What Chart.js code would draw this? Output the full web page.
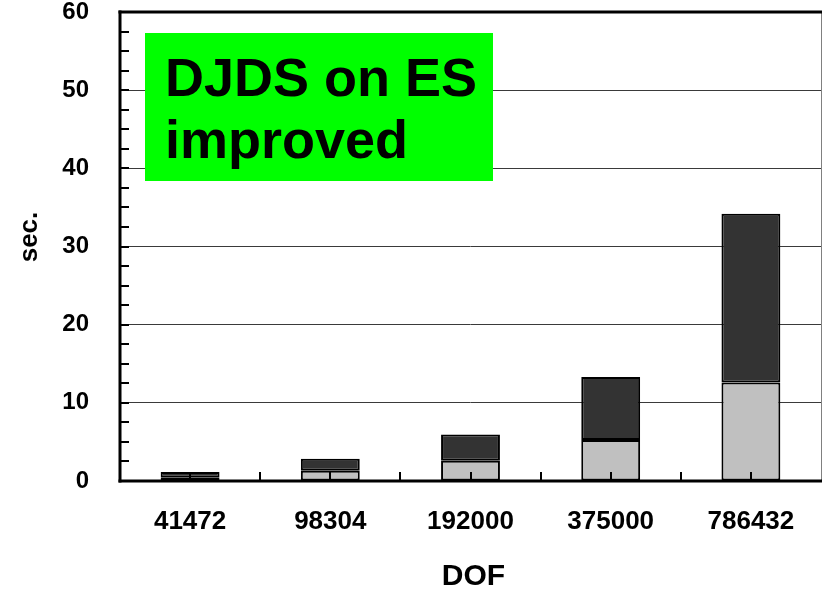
<!DOCTYPE html>
<html>
<head>
<meta charset="utf-8">
<script src="https://cdn.jsdelivr.net/npm/chart.js@4/dist/chart.umd.min.js"></script>
<style>
  html, body { margin: 0; padding: 0; background: #fff; }
  canvas { display: block; }
</style>
</head>
<body>
<canvas id="c" width="822" height="591"></canvas>
<script>
// Problem sizes (degrees of freedom)
const categories = ['41472', '98304', '192000', '375000', '786432'];
// Elapsed time split into two stacked parts (sec.)
const lowerPart = [0.4, 1.3, 2.6, 5.25, 12.6];
const upperPart = [0.75, 1.55, 3.35, 8.05, 21.6];
// Value axis
const yMin = 0;
const yMax = 60;
const yStep = 10;
const yMinorStep = 2.5;
// Texts
const xTitle = 'DOF';
const yTitle = 'sec.';
const noteLines = ['DJDS on ES', 'improved'];

const FONT = '"Liberation Sans", Arial, Helvetica, sans-serif';

function seg(ctx, x1, y1, x2, y2) {
  ctx.beginPath();
  ctx.moveTo(x1, y1);
  ctx.lineTo(x2, y2);
  ctx.stroke();
}

// Frame, axis lines and inward tick marks, drawn over the bars
const framePlugin = {
  id: 'frame',
  afterDatasetsDraw(chart) {
    const { ctx, chartArea: a, scales: { x, y } } = chart;
    ctx.save();
    ctx.lineCap = 'butt';
    // right edge
    ctx.strokeStyle = '#808080';
    ctx.lineWidth = 1;
    seg(ctx, a.right + 0.5, a.top, a.right + 0.5, a.bottom);
    // top, left and bottom edges
    ctx.strokeStyle = '#000';
    ctx.lineWidth = 3;
    seg(ctx, a.left - 1.5, a.top, a.right + 1, a.top);
    seg(ctx, a.left, a.top - 1.5, a.left, a.bottom + 1.5);
    seg(ctx, a.left - 1.5, a.bottom, a.right + 1, a.bottom);
    // value axis ticks
    ctx.lineWidth = 2;
    for (let v = yMin; v <= yMax; v += yMinorStep) {
      const py = Math.round(y.getPixelForValue(v));
      seg(ctx, a.left, py, a.left + 9, py);
    }
    // category ticks at centres and boundaries
    for (let i = 0; i < categories.length; i++) {
      const px = Math.round(x.getPixelForValue(i));
      seg(ctx, px, a.bottom, px, a.bottom - 9);
      if (i > 0) {
        const pb = Math.round((x.getPixelForValue(i - 1) + x.getPixelForValue(i)) / 2);
        seg(ctx, pb, a.bottom, pb, a.bottom - 9);
      }
    }
    ctx.restore();
  },
  afterDraw(chart) {
    const { ctx, chartArea: a } = chart;
    ctx.save();
    // axis titles
    ctx.fillStyle = '#000';
    ctx.font = 'bold 30px ' + FONT;
    ctx.textAlign = 'center';
    ctx.textBaseline = 'alphabetic';
    ctx.fillText(xTitle, (a.left + a.right) / 2 + 3, 585);
    ctx.translate(37, 237);
    ctx.rotate(-Math.PI / 2);
    ctx.font = 'bold 26px ' + FONT;
    ctx.fillText(yTitle, 0, 0);
    ctx.restore();

    // note box
    ctx.save();
    const bx = a.left + 25, by = a.top + 21;
    ctx.fillStyle = '#00ff00';
    ctx.fillRect(bx, by, 348, 148);
    ctx.fillStyle = '#000';
    ctx.font = 'bold 54px ' + FONT;
    ctx.textAlign = 'left';
    ctx.textBaseline = 'alphabetic';
    ctx.fillText(noteLines[0], bx + 20, by + 63);
    ctx.fillText(noteLines[1], bx + 20, by + 125);
    ctx.restore();
  }
};

new Chart(document.getElementById('c'), {
  type: 'bar',
  data: {
    labels: categories,
    datasets: [
      {
        label: 'lower',
        data: lowerPart,
        backgroundColor: '#c0c0c0',
        borderColor: '#000',
        borderWidth: 2,
        borderSkipped: false
      },
      {
        label: 'upper',
        data: upperPart,
        backgroundColor: '#333333',
        borderColor: '#000',
        borderWidth: 2,
        borderSkipped: false
      }
    ]
  },
  options: {
    responsive: false,
    animation: false,
    devicePixelRatio: 1,
    layout: { padding: { top: 12, right: 1, left: 0, bottom: 0 } },
    datasets: { bar: { categoryPercentage: 1, barPercentage: 0.42 } },
    plugins: {
      legend: { display: false },
      tooltip: { enabled: false },
      title: { display: false }
    },
    scales: {
      x: {
        stacked: true,
        grid: { display: false, drawTicks: false },
        border: { display: false },
        ticks: {
          color: '#000',
          font: { family: FONT, size: 26, weight: 'bold', lineHeight: 1.2 },
          padding: 25,
          maxRotation: 0,
          autoSkip: false
        },
        afterFit(scale) { scale.height = 110; }
      },
      y: {
        stacked: true,
        min: yMin,
        max: yMax,
        grid: { color: '#3a3a3a', lineWidth: 1, drawTicks: false },
        border: { display: false },
        ticks: {
          stepSize: yStep,
          color: '#000',
          font: { family: FONT, size: 24, weight: 'bold', lineHeight: 1 },
          padding: 31
        },
        afterFit(scale) {
          scale.width = 120;
          scale.paddingTop = 12;
          scale.paddingBottom = 12;
        }
      }
    }
  },
  plugins: [framePlugin]
});
</script>
</body>
</html>
